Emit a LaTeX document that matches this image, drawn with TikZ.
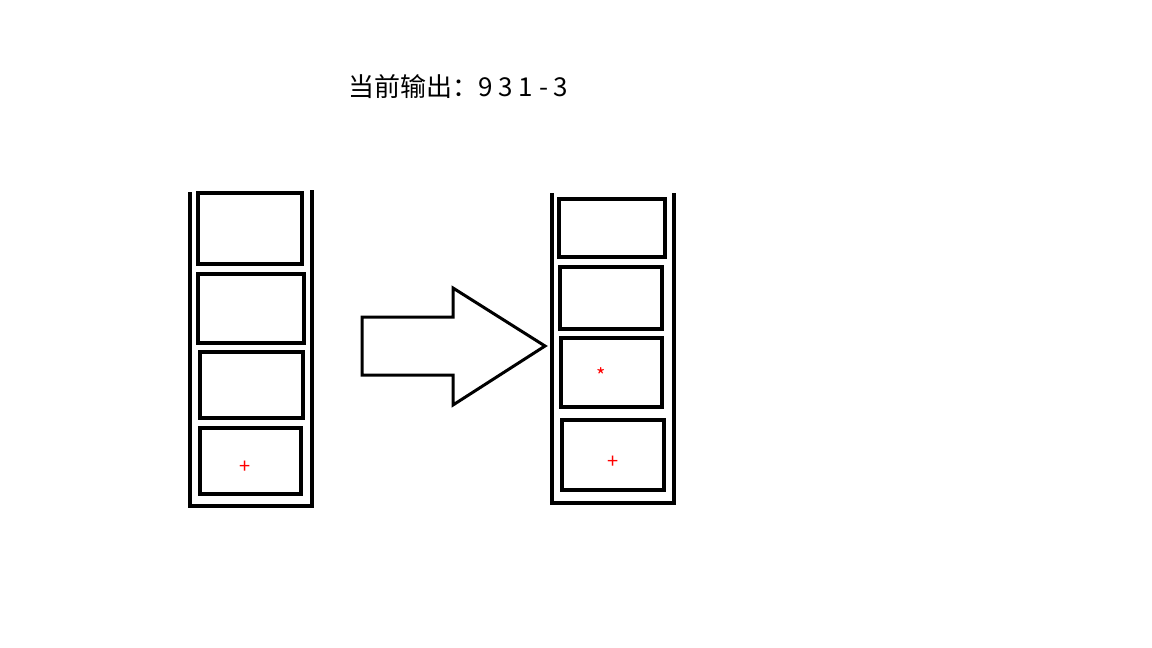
\documentclass[tikz,border=0pt]{standalone}
\usepackage{fontspec}
\newfontfamily\cjk{Noto Sans CJK SC}
\begin{document}
\begin{tikzpicture}[x=1pt,y=-1pt,line width=4pt,
 cell/.style={draw=black},
 sym/.style={text=red,font=\cjk\fontsize{20}{20}\selectfont}]
\useasboundingbox (0,0) rectangle (1152,648);
\node[anchor=west,font=\cjk\fontsize{26}{26}\selectfont] (title) at (343,87) {当前输出：9 3 1 - 3};
% left stack
\draw (190,192) -- (190,506) -- (312,506) -- (312,190);
\draw[cell] (198,193) rectangle (302,264);
\draw[cell] (198,274) rectangle (304,343);
\draw[cell] (200,352) rectangle (303,418);
\draw[cell] (200,428) rectangle (301,494);
\node[sym] (p1) at (245,467) {+};
% arrow
\draw[line width=3pt,line join=miter] (362,317) -- (453,317) -- (453,288) -- (545,346) -- (453,405) -- (453,375) -- (362,375) -- cycle;
% right stack
\draw (552,193) -- (552,503) -- (674,503) -- (674,193);
\draw[cell] (559,199) rectangle (665,257);
\draw[cell] (560,267) rectangle (662,329);
\draw[cell] (561,338) rectangle (662,407);
\draw[cell] (562,420) rectangle (664,490);
\node[sym] (s) at (601,376) {*};
\node[sym] (p2) at (613,462) {+};
\end{tikzpicture}
\end{document}
